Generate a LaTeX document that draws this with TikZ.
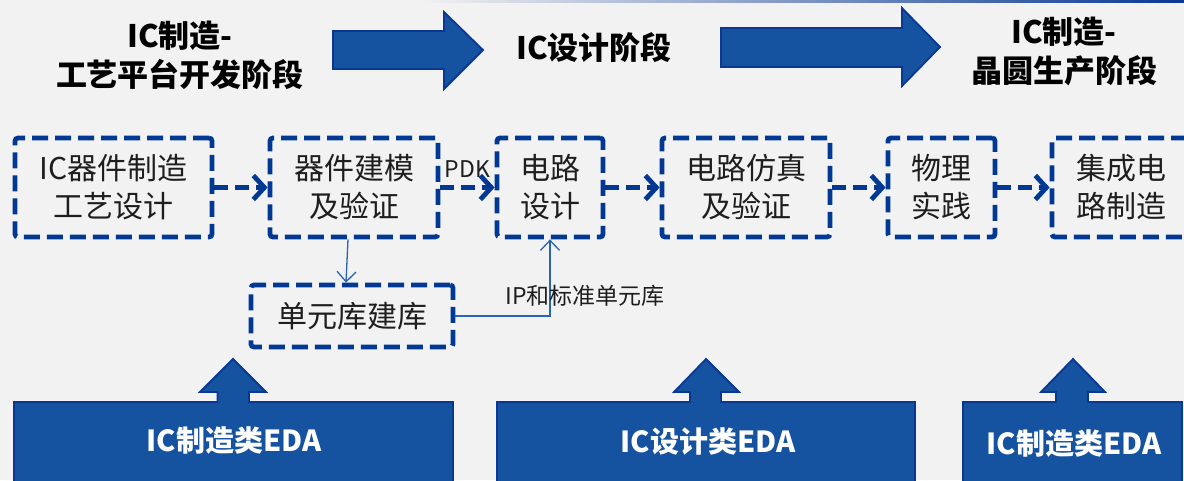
\documentclass[tikz,border=0pt]{standalone}
\usepackage{fontspec}
\setmainfont{Noto Sans CJK SC}
\usetikzlibrary{arrows.meta}
\definecolor{bg}{RGB}{242,242,242}
\definecolor{bfill}{RGB}{21,82,160}
\definecolor{bedge}{RGB}{8,56,148}
\definecolor{dashc}{RGB}{0,56,148}
\definecolor{thinc}{RGB}{40,100,180}
\definecolor{txt}{RGB}{30,30,30}
\begin{document}
\begin{tikzpicture}[x=1pt,y=-1pt,
  stepbox/.style={draw=dashc, line width=4.8pt, dash pattern=on 16pt off 7pt, rounded corners=3pt,
    align=center, inner sep=0pt, font=\fontsize{30}{38}\selectfont, text=txt, minimum height=99pt},
  conn/.style={draw=dashc, line width=4.8pt, dash pattern=on 14pt off 7pt,
    -{Straight Barb[length=11pt,width=24pt]}},
  thinarrow/.style={draw=thinc, line width=1.3pt, -{Straight Barb[length=10pt,width=19pt,line width=1.3pt]}},
  bigarrow/.style={fill=bfill, draw=bedge, line width=1.8pt},
  head/.style={font=\fontsize{31}{39}\selectfont\bfseries, text=black, align=center, inner sep=0pt},
  eda/.style={font=\fontsize{29}{34}\selectfont\bfseries, text=white, inner sep=0pt},
  lbl/.style={font=\fontsize{23}{28}\selectfont, text=txt, inner sep=0pt}
]
\useasboundingbox (0,0) rectangle (1184,480);
\fill[bg] (0,0) rectangle (1184,480);
\shade[left color=bg, right color=bedge] (420,0) rectangle (1184,2.5);

% top headings
\node[head] (h1) at (180,55) {IC制造-\\工艺平台开发阶段};
\node[head] (h2) at (594,48) {IC设计阶段};
\node[head] (h3) at (1064,51) {IC制造-\\晶圆生产阶段};

% top big arrows
\draw[bigarrow] (333,31) -- (444,31) -- (444,12) -- (483,50) -- (444,89) -- (444,69) -- (333,69) -- cycle;
\draw[bigarrow] (721,28) -- (902,28) -- (902,8) -- (940,47) -- (902,86) -- (902,67) -- (721,67) -- cycle;

% process boxes
\node[stepbox, minimum width=197pt] (A) at (113.5,187.5) {IC器件制造\\工艺设计};
\node[stepbox, minimum width=168pt] (B) at (354,187.5) {器件建模\\及验证};
\node[stepbox, minimum width=106pt] (C) at (550,187.5) {电路\\设计};
\node[stepbox, minimum width=168pt] (E) at (746,187.5) {电路仿真\\及验证};
\node[stepbox, minimum width=107pt] (F) at (941.5,187.5) {物理\\实践};
\node[stepbox, minimum width=138pt] (G) at (1121,187.5) {集成电\\路制造};
\node[stepbox, minimum width=202pt, minimum height=62pt] (D) at (352,316) {单元库建库};

% connectors
\draw[conn] (A) -- (B);
\draw[conn] (B) -- node[lbl, midway, yshift=18pt] (pdk) {PDK} (C);
\draw[conn] (C) -- (E);
\draw[conn] (E) -- (F);
\draw[conn] (F) -- (G);

\draw[thinarrow] ([xshift=-6pt]B.south) -- ([xshift=-6pt]D.north);
\draw[thinarrow] (D.east) -| (C.south);
\node[lbl] (ip) at (585,296) {IP和标准单元库};

% bottom EDA blocks with up arrows
\draw[bigarrow] (14,484) -- (14,402) -- (217.5,402) -- (217.5,392) -- (200,392) -- (233,359) -- (266,392) -- (249,392) -- (249,402) -- (453,402) -- (453,484) -- cycle;
\draw[bigarrow] (497,484) -- (497,402) -- (690,402) -- (690,392) -- (674,392) -- (706,359) -- (739,392) -- (721,392) -- (721,402) -- (915,402) -- (915,484) -- cycle;
\draw[bigarrow] (963,484) -- (963,402) -- (1056,402) -- (1056,392) -- (1041,392) -- (1073,359) -- (1105,392) -- (1088,392) -- (1088,402) -- (1182,402) -- (1182,484) -- cycle;
\node[eda] (e1) at (234,441) {IC制造类EDA};
\node[eda] (e2) at (708,442) {IC设计类EDA};
\node[eda] (e3) at (1074,444) {IC制造类EDA};
\end{tikzpicture}
\end{document}
